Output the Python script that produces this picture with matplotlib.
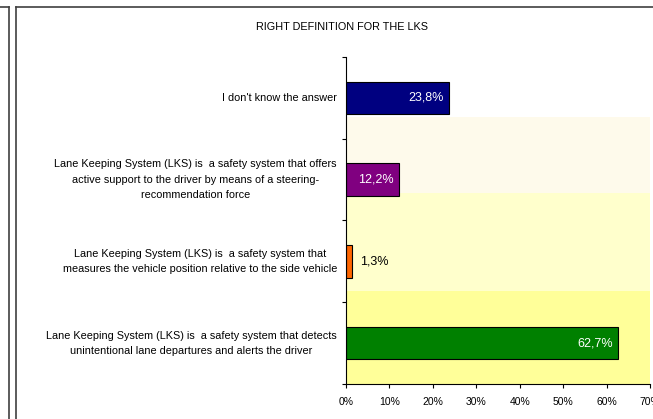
import matplotlib
matplotlib.use("Agg")
import matplotlib.pyplot as plt
from matplotlib.lines import Line2D

categories = [
    "Lane Keeping System (LKS) is  a safety system that detects\nunintentional lane departures and alerts the driver",
    "Lane Keeping System (LKS) is  a safety system that\nmeasures the vehicle position relative to the side vehicle",
    "Lane Keeping System (LKS) is  a safety system that offers\nactive support to the driver by means of a steering-\nrecommendation force",
    "I don't know the answer",
]
values = [62.7, 1.3, 12.2, 23.8]
labels = ["62,7%", "1,3%", "12,2%", "23,8%"]
bar_colors = ["#008000", "#ff6600", "#800080", "#000080"]
xticks = [0, 10, 20, 30, 40, 50, 60, 70]
xticklabels = ["0%", "10%", "20%", "30%", "40%", "50%", "60%", "70%"]
title = "RIGHT DEFINITION FOR THE LKS"

plt.rcParams['font.family'] = ['Liberation Sans', 'DejaVu Sans']

fig = plt.figure(figsize=(6.53, 4.19), dpi=100)
ax = fig.add_axes([346/653, 1-384/419, 304/653, 327/419])

# background gradient bands (axes fraction)
bands = [(0.0, 0.284, "#ffff99"), (0.284, 0.584, "#ffffcc"), (0.584, 0.8165, "#fefaeb")]
for y0, y1, c in bands:
    ax.add_patch(plt.Rectangle((0, y0), 1, y1 - y0, transform=ax.transAxes,
                               facecolor=c, edgecolor='none', zorder=0))

ypos = list(range(len(categories)))
ax.barh(ypos, values, height=0.4, color=bar_colors, edgecolor='black', linewidth=0.8, zorder=2)

for y, v, lab in zip(ypos, values, labels):
    if v > 5:
        ax.text(v - 1.2, y, lab, ha='right', va='center', color='white', fontsize=9, zorder=3)
    else:
        ax.text(v + 2.0, y, lab, ha='left', va='center', color='black', fontsize=9, zorder=3)

ax.set_xlim(0, 70)
ax.set_ylim(-0.5, 3.5)
ax.set_xticks(xticks)
ax.set_xticklabels(xticklabels, fontsize=7.5)
ax.set_yticks([-0.5, 0.5, 1.5, 2.5, 3.5])
ax.set_yticklabels([])
ax.tick_params(axis='both', length=3, width=0.8, direction='out', color='black')
ax.tick_params(axis='x', pad=6)
for s in ['top', 'right']:
    ax.spines[s].set_visible(False)
for s in ['left', 'bottom']:
    ax.spines[s].set_linewidth(0.8)
ax.set_facecolor('white')

for y, cat in zip(ypos, categories):
    ax.text(-0.03, y, cat, transform=ax.get_yaxis_transform(), ha='right', va='center',
            multialignment='center', fontsize=7.8, linespacing=1.65)

fig.text(342/653, 1-27/419, title, ha='center', va='center', fontsize=7.8)

# frame lines
fig.add_artist(Line2D([16/653, 16/653], [0, 1-7/419], color='#404040', lw=1.2))
fig.add_artist(Line2D([16/653, 1], [1-7/419, 1-7/419], color='#404040', lw=1.2))
fig.add_artist(Line2D([9/653, 9/653], [0, 1-7/419], color='#404040', lw=1.2))
fig.add_artist(Line2D([0, 9/653], [1-7/419, 1-7/419], color='#404040', lw=1.2))

fig.savefig("out.png", dpi=100)
